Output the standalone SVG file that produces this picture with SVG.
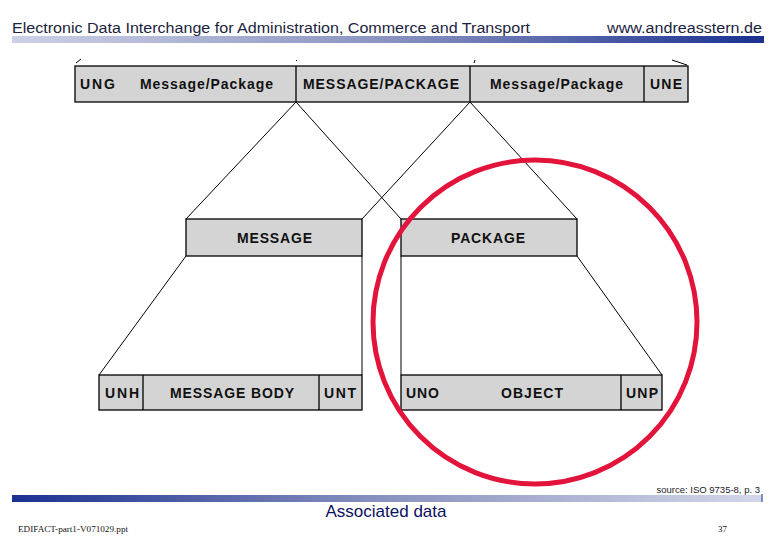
<svg xmlns="http://www.w3.org/2000/svg" width="780" height="540" viewBox="0 0 780 540">
<defs>
<linearGradient id="gHead" x1="0" y1="0" x2="1" y2="0">
<stop offset="0" stop-color="#cdd1e6"/>
<stop offset="0.5" stop-color="#8a93c0"/>
<stop offset="1" stop-color="#1a3190"/>
</linearGradient>
<linearGradient id="gFoot" x1="0" y1="0" x2="1" y2="0">
<stop offset="0" stop-color="#1a3190"/>
<stop offset="0.5" stop-color="#8a93c0"/>
<stop offset="1" stop-color="#d3d7ea"/>
</linearGradient>
<style>
.box{fill:#d4d4d4;stroke:#000;stroke-width:1.3}
.div{stroke:#000;stroke-width:1.3}
.lbl{font-family:"Liberation Sans",Arial,sans-serif;font-weight:bold;font-size:14px;fill:#111}
.con{stroke:#000;stroke-width:1;fill:none}
.hdr{font-family:"Liberation Sans",Arial,sans-serif;font-size:15.5px;fill:#1c2340}
</style>
</defs>
<rect width="780" height="540" fill="#fff"/>
<!-- header -->
<text class="hdr" x="12" y="33" textLength="518" lengthAdjust="spacingAndGlyphs">Electronic Data Interchange for Administration, Commerce and Transport</text>
<text class="hdr" x="607" y="33" textLength="155" lengthAdjust="spacingAndGlyphs">www.andreasstern.de</text>
<rect x="12" y="36" width="752" height="7" fill="url(#gHead)"/>
<!-- connectors -->
<g id="connectors">
<line class="con" x1="296" y1="102" x2="186" y2="219"/>
<line class="con" x1="296" y1="102" x2="401" y2="219"/>
<line class="con" x1="470" y1="102" x2="362" y2="219"/>
<line class="con" x1="470" y1="102" x2="577" y2="219"/>
<line class="con" x1="186" y1="256" x2="99" y2="375"/>
<line class="con" x1="362" y1="256" x2="362" y2="375"/>
<line class="con" x1="401" y1="256" x2="401" y2="375"/>
<line class="con" x1="577" y1="256" x2="662" y2="375"/>
<line class="con" x1="76" y1="63" x2="81" y2="59"/>
<line class="con" x1="296" y1="60" x2="297" y2="61"/>
<line class="con" x1="475" y1="60" x2="474" y2="63"/>
<line class="con" x1="672" y1="60" x2="687" y2="65"/>
</g>
<!-- top row -->
<g id="interchange">
<rect class="box" x="75" y="66" width="613" height="36"/>
<line class="div" x1="296" y1="66" x2="296" y2="102"/>
<line class="div" x1="470" y1="66" x2="470" y2="102"/>
<line class="div" x1="644" y1="66" x2="644" y2="102"/>
<text class="lbl" x="80" y="89" textLength="35" lengthAdjust="spacing">UNG</text>
<text class="lbl" x="140" y="89" textLength="133" lengthAdjust="spacing">Message/Package</text>
<text class="lbl" x="303" y="89" textLength="156" lengthAdjust="spacing">MESSAGE/PACKAGE</text>
<text class="lbl" x="490" y="89" textLength="133" lengthAdjust="spacing">Message/Package</text>
<text class="lbl" x="650" y="89" textLength="32" lengthAdjust="spacing">UNE</text>
</g>
<!-- middle row -->
<g id="message">
<rect class="box" x="186" y="219" width="176" height="37"/>
<text class="lbl" x="237" y="243" textLength="75" lengthAdjust="spacing">MESSAGE</text>
</g>
<g id="package">
<rect class="box" x="401" y="219" width="176" height="37"/>
<text class="lbl" x="451" y="243" textLength="74" lengthAdjust="spacing">PACKAGE</text>
</g>
<!-- bottom row -->
<g id="message-structure">
<rect class="box" x="99" y="375" width="263" height="35"/>
<line class="div" x1="143" y1="375" x2="143" y2="410"/>
<line class="div" x1="319" y1="375" x2="319" y2="410"/>
<text class="lbl" x="105" y="398" textLength="34" lengthAdjust="spacing">UNH</text>
<text class="lbl" x="170" y="398" textLength="124" lengthAdjust="spacing">MESSAGE BODY</text>
<text class="lbl" x="324" y="398" textLength="32" lengthAdjust="spacing">UNT</text>
</g>
<g id="package-structure">
<rect class="box" x="401" y="375" width="261" height="35"/>
<line class="div" x1="621" y1="375" x2="621" y2="410"/>
<text class="lbl" x="406" y="398" textLength="33" lengthAdjust="spacing">UNO</text>
<text class="lbl" x="501" y="398" textLength="62" lengthAdjust="spacing">OBJECT</text>
<text class="lbl" x="626" y="398" textLength="32" lengthAdjust="spacing">UNP</text>
</g>
<!-- highlight -->
<g id="highlight">
<circle cx="535" cy="322" r="162" fill="none" stroke="#e3143c" stroke-width="5"/>
</g>
<!-- footer -->
<text x="760" y="493" text-anchor="end" font-family="Liberation Sans, Arial, sans-serif" font-size="9.5" fill="#222">source: ISO 9735-8, p. 3</text>
<rect x="12" y="495" width="750" height="7" fill="url(#gFoot)"/>
<line x1="762" y1="494" x2="762" y2="502" stroke="#1a3190" stroke-width="1"/>
<text x="386" y="517" text-anchor="middle" font-family="Liberation Sans, Arial, sans-serif" font-size="17" fill="#0c1060">Associated data</text>
<text x="18" y="532" font-family="Liberation Serif, Times New Roman, serif" font-size="9" fill="#111" textLength="110" lengthAdjust="spacingAndGlyphs">EDIFACT-part1-V071029.ppt</text>
<text x="718" y="532" font-family="Liberation Serif, Times New Roman, serif" font-size="9" fill="#111">37</text>
</svg>
